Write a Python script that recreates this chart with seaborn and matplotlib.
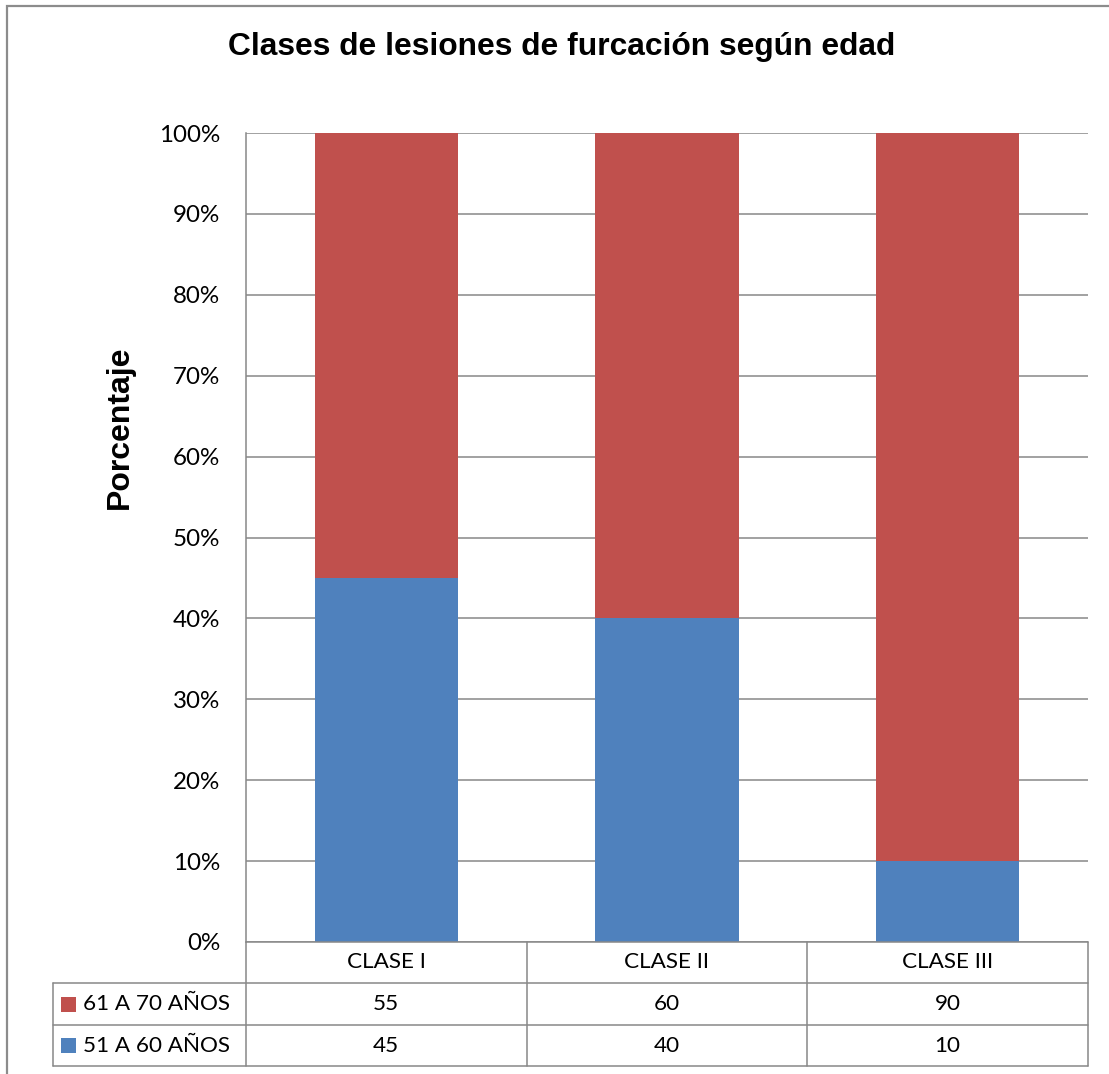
import matplotlib
matplotlib.use("Agg")
import matplotlib.pyplot as plt
from matplotlib.lines import Line2D
from matplotlib.patches import Rectangle
from matplotlib.transforms import blended_transform_factory
import numpy as np
import pandas as pd
import seaborn as sns

# Data
categories = ["CLASE I", "CLASE II", "CLASE III"]
edad_61_70 = [55, 60, 90]
edad_51_60 = [45, 40, 10]
series_labels = ["61 A 70 AÑOS", "51 A 60 AÑOS"]
ytick_values = list(range(0, 101, 10))

RED = "#C0504D"
BLUE = "#4F81BD"
GRID = "#888888"

sns.set_style("white")
plt.rcParams["font.family"] = ["Lato", "DejaVu Sans"]
plt.rcParams["text.color"] = "black"
plt.rcParams["ytick.color"] = "black"
plt.rcParams["axes.labelcolor"] = "black"

W, H = 1109, 1074
fig = plt.figure(figsize=(W / 100, H / 100), dpi=100)


def fx(px):
    return px / W


def fy(py):
    return 1 - py / H


# plot area
left, right, top, bottom = 246, 1088, 133, 942
ax = fig.add_axes([fx(left), fy(bottom), fx(right - left), (bottom - top) / H])

total = np.array(edad_61_70) + np.array(edad_51_60)
df = pd.DataFrame({
    "clase": categories,
    "total_pct": total / total * 100,
    "blue_pct": np.array(edad_51_60) / total * 100,
})

sns.barplot(data=df, x="clase", y="total_pct", color=RED, width=0.51,
            saturation=1, linewidth=0, edgecolor="none", ax=ax, zorder=3)
sns.barplot(data=df, x="clase", y="blue_pct", color=BLUE, width=0.51,
            saturation=1, linewidth=0, edgecolor="none", ax=ax, zorder=4)

ax.set_xlim(-0.5, len(categories) - 0.5)
ax.set_ylim(0, 100)
ax.set_yticks(ytick_values)
ax.set_yticklabels([f"{v}%" for v in ytick_values], fontsize=17.4)
ax.tick_params(axis="y", length=0, pad=18.5)
ax.set_xticks([])
ax.set_xlabel("")
ax.set_ylabel("")
ax.yaxis.grid(True, color=GRID, linewidth=1.1, zorder=0)
ax.set_axisbelow(True)
for s in ["top", "right", "bottom"]:
    ax.spines[s].set_visible(False)
ax.spines["left"].set_color(GRID)
ax.spines["left"].set_linewidth(1.1)

# Axis title
fig.text(fx(120), fy(427), "Porcentaje", rotation=90, ha="center",
         va="center", fontsize=23, fontweight="bold",
         family=["Liberation Sans", "DejaVu Sans"])

# Title
fig.text(fx(562), fy(47), "Clases de lesiones de furcación según edad",
         ha="center", va="center", fontsize=22.9, fontweight="bold",
         family=["Liberation Sans", "DejaVu Sans"])

# Data table below the plot area
row_tops = [942, 983, 1025, 1066]
legend_left = 53
lw = 1.1


def hline(y, x0, x1):
    fig.add_artist(Line2D([fx(x0), fx(x1)], [fy(y), fy(y)], color=GRID,
                          linewidth=lw, transform=fig.transFigure))


def vline(x, y0, y1):
    fig.add_artist(Line2D([fx(x), fx(x)], [fy(y0), fy(y1)], color=GRID,
                          linewidth=lw, transform=fig.transFigure))


hline(row_tops[0], left, right)
for y in row_tops[1:]:
    hline(y, legend_left, right)
vline(legend_left, row_tops[1], row_tops[3])
for b in np.arange(-0.5, len(categories), 1.0):
    xpix = left + (b + 0.5) / len(categories) * (right - left)
    vline(xpix, row_tops[0], row_tops[3])

trans = blended_transform_factory(ax.transData, fig.transFigure)
row_mid = [(row_tops[i] + row_tops[i + 1]) / 2 for i in range(3)]
fs_table = 16.2
for i, c in enumerate(categories):
    fig.text(i, fy(row_mid[0]), c, transform=trans, ha="center",
             va="center", fontsize=fs_table)
    fig.text(i, fy(row_mid[1]), str(edad_61_70[i]), transform=trans,
             ha="center", va="center", fontsize=fs_table)
    fig.text(i, fy(row_mid[2]), str(edad_51_60[i]), transform=trans,
             ha="center", va="center", fontsize=fs_table)

# Legend keys inside the table
for label, color, ym in zip(series_labels, [RED, BLUE], row_mid[1:]):
    fig.add_artist(Rectangle((fx(61), fy(ym + 7.5)), fx(15), 15 / H,
                             facecolor=color, edgecolor="none",
                             transform=fig.transFigure))
    fig.text(fx(83), fy(ym), label, ha="left", va="center", fontsize=fs_table)

# Chart frame
fig.add_artist(Rectangle((fx(7), fy(1090)), fx(1120), 1084 / H,
                         facecolor="none", edgecolor="#8C8C8C", linewidth=1.6,
                         transform=fig.transFigure))

fig.savefig("out.png", dpi=100)
